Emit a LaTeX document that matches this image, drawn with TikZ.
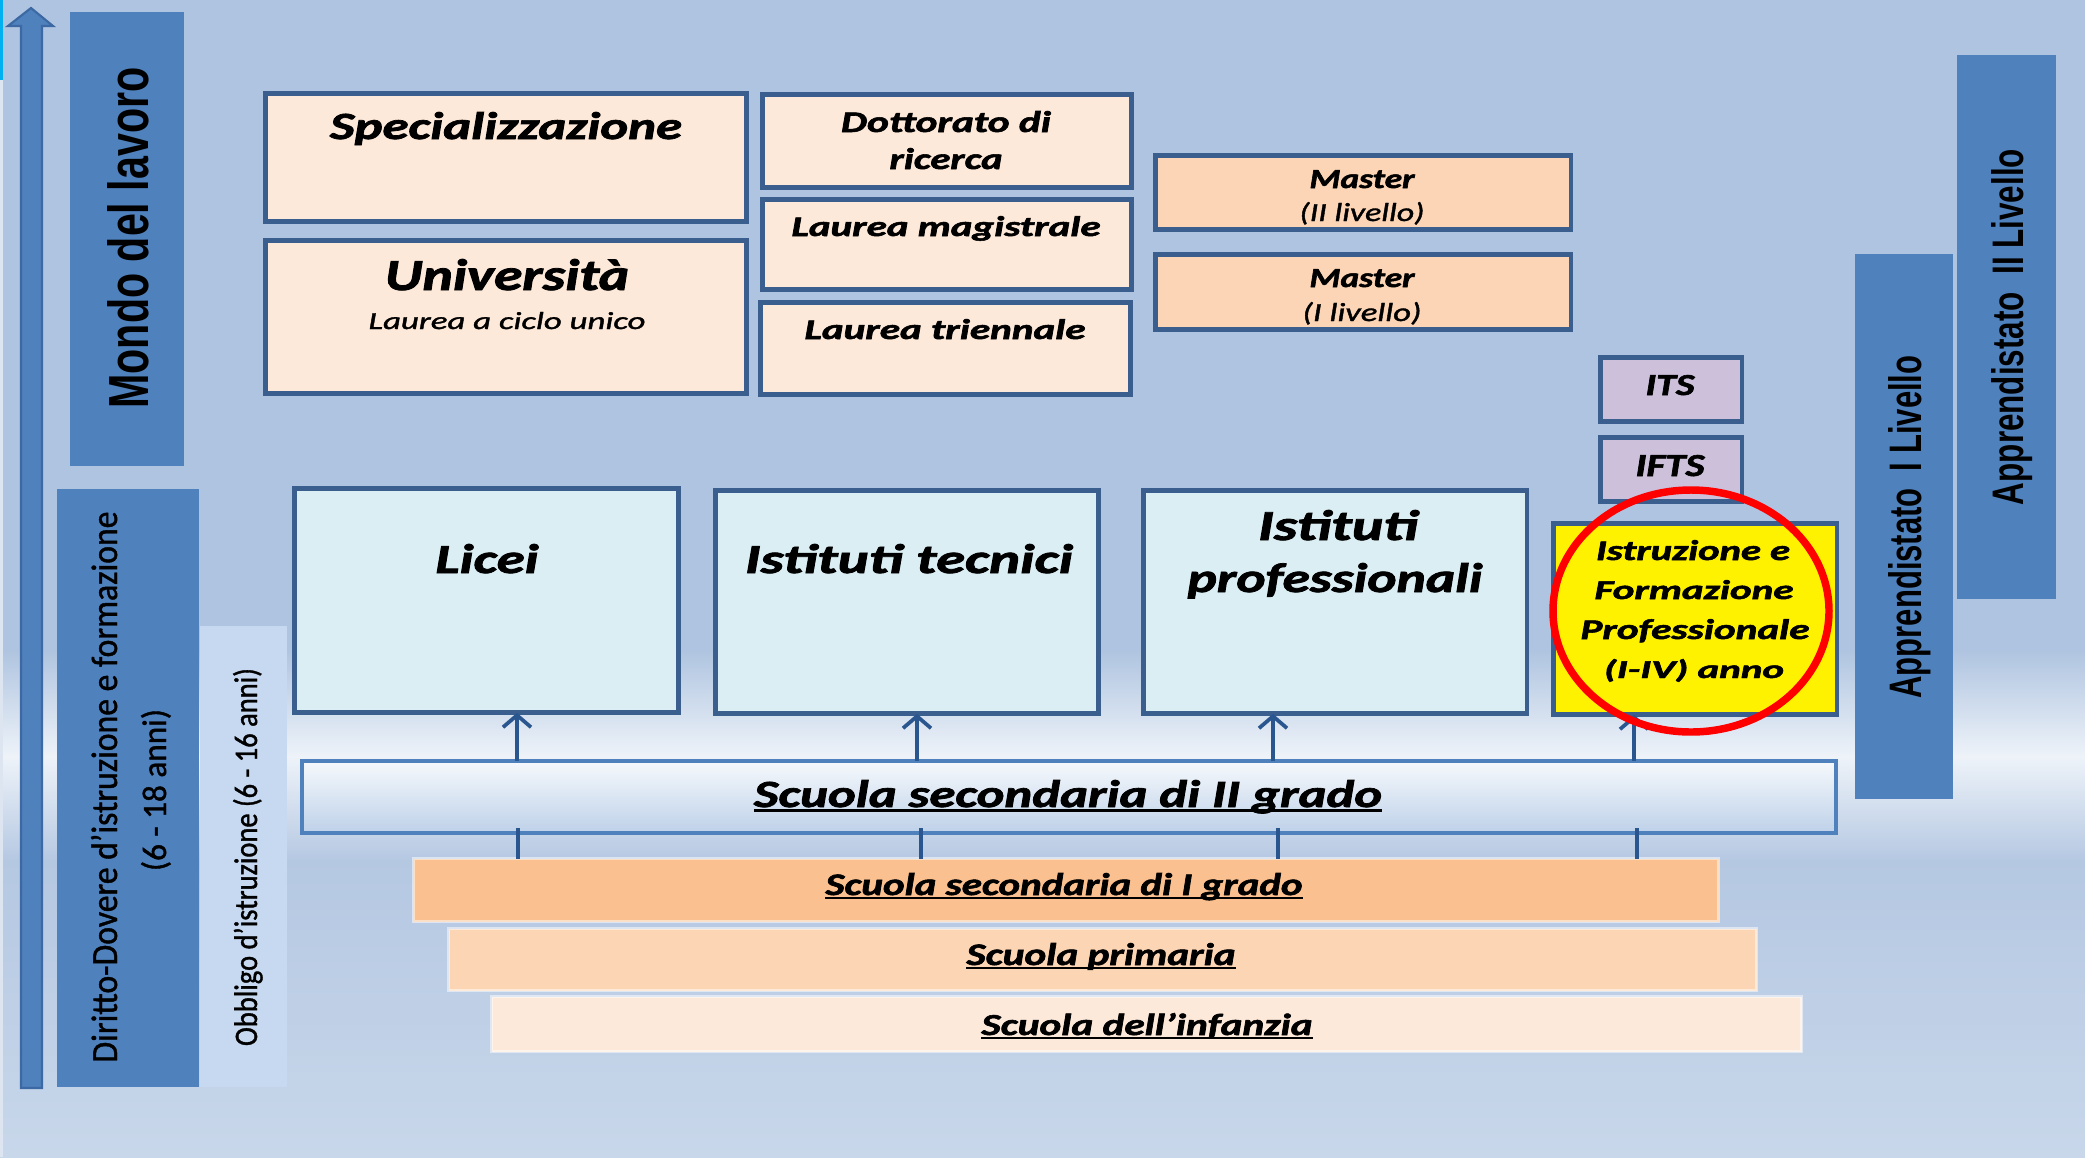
\documentclass[tikz,border=0pt]{standalone}
\usepackage{fontspec}
\usepackage{graphicx}
\usetikzlibrary{arrows.meta,shapes.geometric}
\setmainfont{Carlito}
\newfontfamily\calfont[FakeBold=1.2]{Carlito}
\newfontfamily\calbfont[FakeBold=1.8]{Carlito}
\newfontfamily\arifont{Liberation Sans}
\newdimen\pu \pu=0.75pt
\newcommand\fitt[3]{\resizebox{#1\pu}{#2\pu}{#3}}
\newcommand\fCBI{\calbfont\bfseries\itshape}
\newcommand\fCI{\calfont\itshape}
\newcommand\fARB{\arifont\bfseries}
\newsavebox\ulbox
\newcommand\ulin[1]{\sbox\ulbox{#1}\rlap{\rule[-0.13em]{\wd\ulbox}{0.075em}}\usebox\ulbox}
% box node: style, name, inset(px), x1, y1, x2, y2 (outer edges in px)
\newcommand\bx[7]{%
  \pgfmathsetmacro\bxcx{(#4+#6)/2}%
  \pgfmathsetmacro\bxcy{(#5+#7)/2}%
  \pgfmathsetmacro\bxww{(#6-#4-#3)*0.75}%
  \pgfmathsetmacro\bxhh{(#7-#5-#3)*0.75}%
  \node[#1, minimum width=\bxww pt, minimum height=\bxhh pt, inner sep=0pt, outer sep=0pt] (#2) at (\bxcx,\bxcy) {};}
\definecolor{bgtop}{HTML}{AFC4E0}
\definecolor{bgband}{HTML}{EEF3F9}
\definecolor{bgmid}{HTML}{B5C8E2}
\definecolor{bgbot}{HTML}{C8D7EA}
\definecolor{dblue}{HTML}{4F81BD}
\definecolor{arredge}{HTML}{3C69A3}
\definecolor{bordc}{HTML}{3A5F8F}
\definecolor{arrc}{HTML}{2A5690}
\definecolor{pch}{HTML}{FDE9D9}
\definecolor{mastc}{HTML}{FBD5B5}
\definecolor{lavc}{HTML}{CCC0DA}
\definecolor{lcyan}{HTML}{DAEEF3}
\definecolor{obbc}{HTML}{C6D9F0}
\definecolor{ssone}{HTML}{FAC090}
\definecolor{sprim}{HTML}{FCD5B4}
\definecolor{sinf}{HTML}{FDE9D9}
\definecolor{ringc}{HTML}{FF0000}
\definecolor{ssa}{HTML}{F6F9FC}
\definecolor{ssb}{HTML}{BED1E9}
\definecolor{stripc}{HTML}{DCE5F0}
\definecolor{cyanc}{HTML}{00B0F0}
\begin{document}
\begin{tikzpicture}[x=0.75pt,y=-0.75pt,
  bord/.style={draw=bordc, line width=3.4pt},
  tx/.style={anchor=base, inner sep=0pt, outer sep=0pt},
  upar/.style={draw=arrc, line width=2.8pt, -{Straight Barb[length=9pt,width=21pt]}},
  upln/.style={draw=arrc, line width=2.6pt}]
\useasboundingbox (0,0) rectangle (2085,1157);
% background
\fill[bgtop] (0,0) rectangle (2085,651);
\shade[top color=bgtop, bottom color=bgband] (0,650) rectangle (2085,757);
\shade[top color=bgband, bottom color=bgmid] (0,756) rectangle (2085,861);
\shade[top color=bgmid, bottom color=bgbot] (0,860) rectangle (2085,1157);
\fill[stripc] (0,80) rectangle (3,1157);
\fill[cyanc] (0,0) rectangle (3,80);
% big vertical arrow
\path[fill=dblue, draw=arredge, line width=1.6pt, line join=miter]
  (21,1088) -- (21,26) -- (8,26) -- (31,8) -- (53,26) -- (42,26) -- (42,1088) -- cycle;
% side bars
\bx{fill=dblue}{mondo}{0}{70}{12}{184}{466}
\bx{fill=dblue}{diritto}{0}{57}{489}{199}{1087}
\bx{fill=obbc}{obbligo}{0}{200}{626}{287}{1087}
\bx{fill=dblue}{app1}{0}{1855}{254}{1953}{799}
\bx{fill=dblue}{app2}{0}{1957}{55}{2056}{599}
% university boxes
\bx{bord,fill=pch}{spec}{4.5}{263}{91}{749}{224}
\bx{bord,fill=pch}{univ}{4.5}{263}{238}{749}{396}
\bx{bord,fill=pch}{dott}{4.5}{760}{92}{1134}{190}
\bx{bord,fill=pch}{lmag}{4.5}{760}{197}{1134}{292}
\bx{bord,fill=pch}{ltri}{4.5}{758}{300}{1133}{397}
\bx{bord,fill=mastc}{mast2}{4.5}{1153}{153}{1573}{232}
\bx{bord,fill=mastc}{mast1}{4.5}{1153}{252}{1573}{332}
\bx{bord,fill=lavc}{its}{4.5}{1598}{355}{1744}{424}
\bx{bord,fill=lavc}{ifts}{4.5}{1598}{435}{1744}{504}
% secondary II
\bx{bord,fill=lcyan}{licei}{4.5}{292}{486}{681}{715}
\bx{bord,fill=lcyan}{tecn}{4.5}{713}{488}{1101}{716}
\bx{bord,fill=lcyan}{prof}{4.5}{1141}{488}{1529}{716}
\bx{bord,fill=yellow}{iefp}{4.5}{1551}{521}{1839}{717}
\bx{draw=dblue, line width=3pt, top color=ssa, bottom color=ssb}{ss2}{4}{300}{759}{1838}{835}
% lower schools
\bx{fill=ssone, draw=white, draw opacity=0.5, line width=2pt}{ss1}{3}{412}{857}{1720}{923}
\bx{fill=sprim, draw=white, draw opacity=0.5, line width=2pt}{prim}{3}{447}{927}{1758}{992}
\bx{fill=sinf, draw=white, draw opacity=0.5, line width=2pt}{inf}{3}{490}{995}{1803}{1053}
% connectors
\coordinate (a1) at (517,0);
\coordinate (a2) at (917,0);
\coordinate (a3) at (1273,0);
\coordinate (a4) at (1634,0);
\coordinate (b1) at (518,0);
\coordinate (b2) at (921,0);
\coordinate (b3) at (1278,0);
\coordinate (b4) at (1637,0);
\draw[upar] (ss2.north -| a1) -- (licei.south -| a1);
\draw[upar] (ss2.north -| a2) -- (tecn.south -| a2);
\draw[upar] (ss2.north -| a3) -- (prof.south -| a3);
\draw[upar] (ss2.north -| a4) -- (iefp.south -| a4);
\draw[upln, shorten >=-4pt] (ss1.north -| b1) -- (ss2.south -| b1);
\draw[upln, shorten >=-4pt] (ss1.north -| b2) -- (ss2.south -| b2);
\draw[upln, shorten >=-4pt] (ss1.north -| b3) -- (ss2.south -| b3);
\draw[upln, shorten >=-4pt] (ss1.north -| b4) -- (ss2.south -| b4);
% texts
\node[tx, rotate=90] (tmondo) at (148,238) {\fitt{341}{41}{\fARB Mondo del lavoro}};
\node[tx, rotate=90] (tdir1) at (117,787) {\fitt{551}{26}{\calfont Diritto-Dovere d’istruzione e formazione}};
\node[tx, rotate=90] (tdir2) at (166,790) {\fitt{162}{25}{\calfont (6 - 18 anni)}};
\node[tx, rotate=90] (tobb) at (257,857) {\fitt{378}{24}{\calfont Obbligo d’istruzione (6 - 16 anni)}};
\node[tx, rotate=90] (tapp1) at (1921,527) {\fitt{343}{33}{\fARB Apprendistato\ \ I Livello}};
\node[tx, rotate=90] (tapp2) at (2023,327) {\fitt{356}{32}{\fARB Apprendistato\ \ II Livello}};
\node[tx] (tspec) at (506,139) {\fitt{352}{27}{\fCBI Specializzazione}};
\node[tx] (tuni) at (507,290) {\fitt{244}{31}{\fCBI Università}};
\node[tx] (tuni2) at (507,329) {\fitt{277}{17}{\fCI Laurea a ciclo unico}};
\node[tx] (tdot1) at (946,132) {\fitt{210}{21}{\fCBI Dottorato di}};
\node[tx] (tdot2) at (946,169) {\fitt{113}{21}{\fCBI ricerca}};
\node[tx] (tlmag) at (946,236) {\fitt{309}{20}{\fCBI Laurea magistrale}};
\node[tx] (tltri) at (945,339) {\fitt{281}{20}{\fCBI Laurea triennale}};
\node[tx] (tm2a) at (1362,188) {\fitt{105}{18}{\fCBI Master}};
\node[tx] (tm2b) at (1362,221) {\fitt{125}{19}{\fCI (II livello)}};
\node[tx] (tm1a) at (1362,287) {\fitt{105}{18}{\fCBI Master}};
\node[tx] (tm1b) at (1362,321) {\fitt{119}{19}{\fCI (I livello)}};
\node[tx] (tits) at (1670,395) {\fitt{49}{20}{\fCBI ITS}};
\node[tx] (tifts) at (1670,476) {\fitt{69}{21}{\fCBI IFTS}};
\node[tx] (tlic) at (487,573) {\fitt{103}{29}{\fCBI Licei}};
\node[tx] (ttec) at (909,573) {\fitt{328}{29}{\fCBI Istituti tecnici}};
\node[tx] (tpro1) at (1338,540) {\fitt{160}{30}{\fCBI Istituti}};
\node[tx] (tpro2) at (1335,592) {\fitt{295}{29}{\fCBI professionali}};
\node[tx] (tie1) at (1693,560) {\fitt{194}{20}{\fCBI Istruzione e}};
\node[tx] (tie2) at (1694,599) {\fitt{199}{19}{\fCBI Formazione}};
\node[tx] (tie3) at (1695,639) {\fitt{229}{20}{\fCBI Professionale}};
\node[tx] (tie4) at (1694,678) {\fitt{180}{19}{\fCBI (I-IV) anno}};
\node[tx] (tss2) at (1068,807) {\fitt{628}{27}{\fCBI\ulin{Scuola secondaria di II grado}}};
\node[tx] (tss1) at (1064,895) {\fitt{477}{22}{\fCBI\ulin{Scuola secondaria di I grado}}};
\node[tx] (tprim) at (1101,965) {\fitt{269}{22}{\fCBI\ulin{Scuola primaria}}};
\node[tx] (tinf) at (1147,1035) {\fitt{331}{22}{\fCBI\ulin{Scuola dell’infanzia}}};
% red ring
\node[ellipse, draw=ringc, line width=5.6pt, minimum width=207pt, minimum height=181.5pt, inner sep=0pt] (ring) at (1691,611) {};
\end{tikzpicture}
\end{document}
